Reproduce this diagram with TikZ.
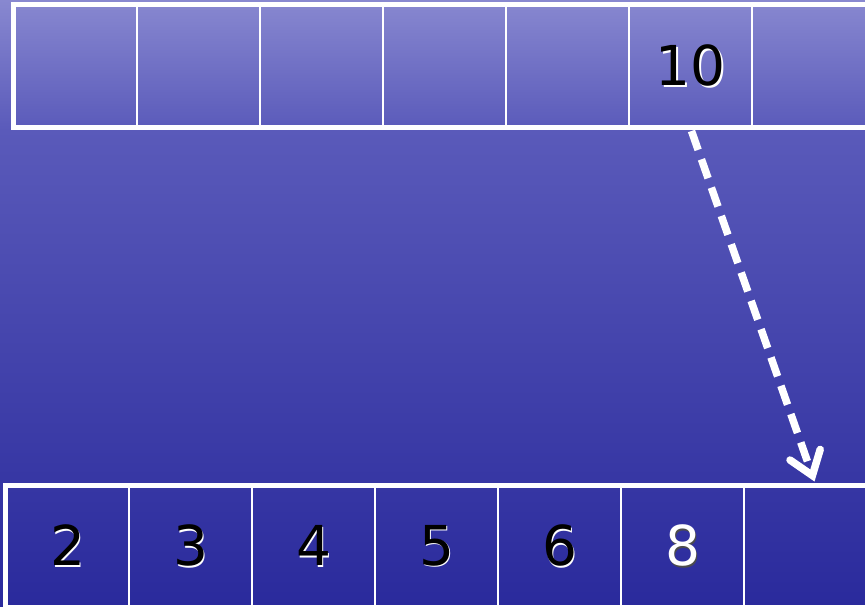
\documentclass[tikz,border=0pt]{standalone}
\usepackage{fontspec}
\setmainfont{DejaVu Sans}
\usetikzlibrary{calc,positioning,arrows.meta}

% colours of the water
\definecolor{watertop}{RGB}{136,136,208}
\definecolor{waterrow}{RGB}{90,90,186}
\definecolor{watermid}{RGB}{60,60,170}
\definecolor{waterlow}{RGB}{42,42,156}

% digit with a small drop shadow behind it
\newcommand{\shadowdigit}[3]{%
  \rlap{\kern1.6pt\raisebox{-1.6pt}{\textcolor{#2}{#3}}}\textcolor{#1}{#3}}

\tikzset{
  cell/.style={draw=white, line width=2pt, minimum width=123pt, inner sep=0pt,
    font=\fontsize{55}{55}\selectfont},
  rowframe/.style={draw=white, line width=5pt},
  moveline/.style={draw=white, line width=7.5pt, dash pattern=on 20pt off 10pt,
    -{Straight Barb[length=22pt,width=32pt,line cap=round]}},
}

\begin{document}
\begin{tikzpicture}[x=1pt,y=1pt]
        \useasboundingbox (0,0) rectangle (865,606);
        \clip (0,0) rectangle (865,606);

        % water in the background
        \shade[top color=watertop, bottom color=waterrow] (0,476) rectangle (865,606);
        \shade[top color=waterrow, middle color=watermid, bottom color=waterlow] (-1,0) rectangle (866,476.5);

        % upper row
        \foreach \i/\num in {1/, 2/, 3/, 4/, 5/, 6/10, 7/} {
            \node[cell, minimum height=121pt] (top\i) at ({14+123*(\i-0.5)}, 539.5) {\shadowdigit{black}{white}{\num}};
        }
        \draw[rowframe] (top1.north west) rectangle (top7.south east);

        % lower row
        \foreach \i/\num/\fg/\bg in {1/2/black/white, 2/3/black/white, 3/4/black/white, 4/5/black/white, 5/6/black/white, 6/8/white/black!70, 7//black/white} {
            \node[cell, minimum height=119.5pt] (bot\i) at ({6+123*(\i-0.5)}, 59.75) {\shadowdigit{\fg}{\bg}{\num}};
        }
        \draw[rowframe] (bot1.north west) rectangle (bot7.south east);

        % the 10 drops into the free place
        \coordinate (drop) at ($(bot7.north)+(9,4)$);
        \draw[moveline] ($(top6.south)+(1,-3)$) -- (drop);
    \end{tikzpicture}
\end{document}
